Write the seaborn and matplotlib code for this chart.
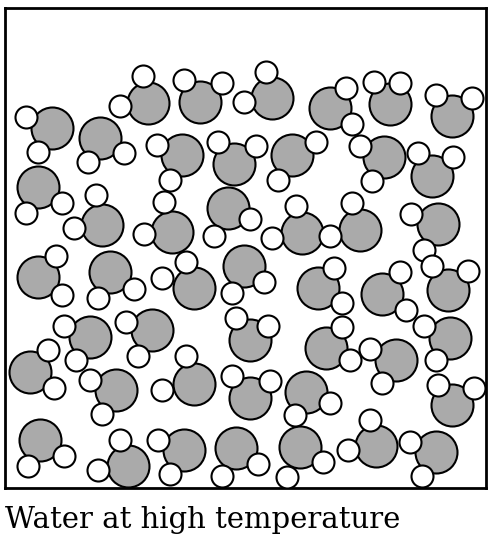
import numpy as np
import pandas as pd
import matplotlib
matplotlib.use('Agg')
import matplotlib.pyplot as plt
import seaborn as sns

# oxygen centres (image pixels)
ox_x = [148, 200, 272, 330, 390, 452,
        52, 100, 182, 234, 292, 384, 432,
        38, 102, 172, 228, 302, 360, 438,
        38, 110, 194, 244, 318, 382, 448,
        90, 152, 250, 326, 396, 450,
        30, 116, 194, 250, 306, 452,
        40, 128, 184, 236, 300, 376, 436]
ox_y = [103, 102, 98, 108, 104, 116,
        128, 138, 155, 164, 155, 157, 176,
        187, 225, 232, 208, 233, 230, 224,
        277, 272, 288, 266, 288, 294, 290,
        337, 330, 340, 348, 360, 338,
        372, 390, 384, 398, 392, 405,
        440, 466, 450, 448, 447, 446, 452]

# hydrogen centres, two per molecule
hy_x = [143, 120, 184, 222, 266, 244, 346, 352, 374, 400, 436, 472,
        26, 38, 88, 124, 157, 170, 218, 256, 278, 316, 360, 372, 418, 453,
        26, 62, 96, 74, 164, 144, 214, 250, 296, 272, 352, 330, 411, 424,
        56, 62, 98, 134, 186, 162, 232, 264, 334, 342, 400, 406, 432, 468,
        64, 76, 126, 138, 236, 268, 342, 350, 370, 382, 424, 436,
        48, 54, 90, 102, 186, 162, 232, 270, 295, 330, 438, 474,
        28, 64, 120, 98, 158, 170, 222, 258, 287, 323, 370, 348, 410, 422]
hy_y = [76, 106, 80, 83, 72, 102, 88, 124, 82, 83, 95, 98,
        117, 152, 162, 153, 145, 180, 142, 146, 180, 142, 146, 181, 153, 157,
        213, 203, 195, 228, 202, 234, 236, 219, 206, 238, 203, 236, 214, 250,
        256, 295, 298, 289, 262, 278, 293, 282, 268, 303, 272, 310, 266, 271,
        326, 360, 322, 356, 318, 326, 327, 360, 349, 383, 326, 360,
        350, 388, 380, 414, 356, 390, 376, 381, 415, 403, 385, 388,
        466, 456, 440, 470, 440, 474, 476, 464, 477, 462, 420, 450, 442, 476]

caption = "Water at high temperature"

oxygen = pd.DataFrame({'x': ox_x, 'y': ox_y})
hydrogen = pd.DataFrame({'x': hy_x, 'y': hy_y})

fig = plt.figure(figsize=(4.94, 5.42), dpi=100)
ax = fig.add_axes([5 / 494, 54 / 542, 481 / 494, 480 / 542])

sns.scatterplot(data=oxygen, x='x', y='y', ax=ax, s=(42 * 0.72) ** 2,
                color='#aaaaaa', edgecolor='black', linewidth=1.5, zorder=2)
sns.scatterplot(data=hydrogen, x='x', y='y', ax=ax, s=(22 * 0.72) ** 2,
                color='white', edgecolor='black', linewidth=1.5, zorder=3)

ax.set_xlim(5, 486)
ax.set_ylim(488, 8)
ax.set_xticks([])
ax.set_yticks([])
ax.set_xlabel('')
ax.set_ylabel('')
for sp in ax.spines.values():
    sp.set_linewidth(2)

fig.text(5 / 494, 1 - 520 / 542, caption, family='DejaVu Serif',
         fontsize=21, va='center', ha='left')

fig.savefig('out.png', dpi=100)
